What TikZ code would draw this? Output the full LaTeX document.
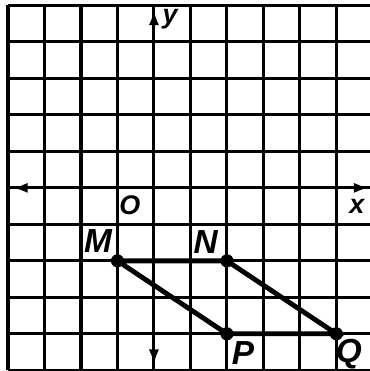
\documentclass[tikz,border=0pt]{standalone}
\usepackage{fontspec}
\setmainfont{Liberation Sans}
\usetikzlibrary{arrows.meta}
\begin{document}
\begin{tikzpicture}[
  gridline/.style={line width=2.4pt},
  axis/.style={line width=2.4pt, -{Latex[length=0.42cm,width=0.28cm]}},
  side/.style={line width=3.8pt, line cap=round},
  pt/.style={circle, fill, inner sep=0pt, minimum size=0.36cm},
  lbl/.style={font=\fontsize{26}{28}\selectfont\bfseries\itshape, inner sep=0pt},
  slbl/.style={font=\fontsize{21}{23}\selectfont\bfseries\itshape, inner sep=0pt}
]
\useasboundingbox (-4.22,-5.02) rectangle (5.92,5.15);
\clip (-4.22,-5.02) rectangle (5.92,5.15);
\draw[gridline] (-4,-5) grid (6,5);
\coordinate (o) at (0,0);
\coordinate (xl) at (-3.88,0);
\coordinate (xr) at (5.9,0);
\coordinate (yt) at (0,4.88);
\coordinate (yb) at (0,-4.85);
\draw[axis] (o) -- (xr);
\draw[axis] (o) -- (xl);
\draw[axis] (o) -- (yt);
\draw[axis] (o) -- (yb);
\node[pt] (M) at (-1,-2) {};
\node[pt] (N) at (2,-2) {};
\node[pt] (P) at (2,-4) {};
\node[pt] (Q) at (5,-4) {};
\draw[side] (M.center) -- (N.center) -- (Q.center) -- (P.center) -- (M.center);
\node[lbl] (lM) at (-1.53,-1.46) {M};
\node[lbl] (lN) at (1.42,-1.48) {N};
\node[lbl] (lP) at (2.44,-4.52) {P};
\node[lbl] (lQ) at (5.34,-4.55) {Q};
\node[slbl] (ly) at (0.44,4.62) {y};
\node[slbl] (lx) at (5.56,-0.5) {x};
\node[slbl] (lO) at (-0.66,-0.47) {O};
\end{tikzpicture}
\end{document}
